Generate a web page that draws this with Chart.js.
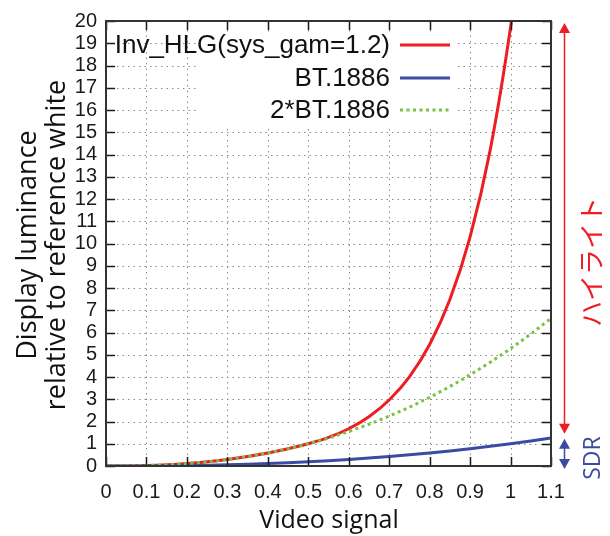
<!DOCTYPE html>
<html>
<head>
<meta charset="utf-8">
<script src="https://cdn.jsdelivr.net/npm/chart.js@4/dist/chart.umd.min.js"></script>
<style>
  html, body { margin: 0; padding: 0; background: #ffffff; }
  #wrap { width: 610px; height: 536px; }
</style>
</head>
<body>
<div id="wrap"><canvas id="c" width="610" height="536"></canvas></div>
<script>
// ---- data ----
const seriesNames = ["Inv_HLG(sys_gam=1.2)", "BT.1886", "2*BT.1886"];
const xVals = [0, 0.05, 0.1, 0.15, 0.2, 0.25, 0.3, 0.35, 0.4, 0.45, 0.5, 0.55, 0.6, 0.65, 0.7, 0.75, 0.8, 0.85, 0.9, 0.95, 1.0, 1.05, 1.1];
const bt1886Vals = [0, 0.0008, 0.004, 0.0105, 0.021, 0.0359, 0.0556, 0.0805, 0.1109, 0.1471, 0.1895, 0.2382, 0.2935, 0.3556, 0.4249, 0.5013, 0.5853, 0.677, 0.7766, 0.8842, 1.0, 1.1242, 1.257];
const bt1886x2Vals = [0, 0.004, 0.021, 0.0556, 0.111, 0.189, 0.293, 0.425, 0.585, 0.776, 1.0, 1.257, 1.549, 1.877, 2.243, 2.646, 3.089, 3.573, 4.099, 4.667, 5.278, 5.934, 6.636];
const hlgX = [0, 0.05, 0.1, 0.15, 0.2, 0.25, 0.3, 0.35, 0.4, 0.45, 0.5, 0.55, 0.6, 0.65, 0.7, 0.75, 0.8, 0.85, 0.9, 0.95, 1.0, 1.02];
const hlgVals = [0, 0.004, 0.021, 0.0556, 0.111, 0.189, 0.293, 0.425, 0.585, 0.776, 1.0, 1.283, 1.673, 2.215, 2.966, 4.008, 5.459, 7.482, 10.30, 14.23, 19.72, 22.5];
const xTickLabels = ["0", "0.1", "0.2", "0.3", "0.4", "0.5", "0.6", "0.7", "0.8", "0.9", "1", "1.1"];
const yTickLabels = ["0","1","2","3","4","5","6","7","8","9","10","11","12","13","14","15","16","17","18","19","20"];
const xTitle = "Video signal";
const yTitleLines = ["Display luminance", "relative to reference white"];
const highlightLabel = "ハイライト";
const sdrLabel = "SDR";

const RED = "#ee1c25";
const BLUE = "#3b4ba3";
const GREEN = "#7cc242";

function pts(xs, ys) { return xs.map((x, i) => ({ x: x, y: ys[i] })); }

const deco = {
  id: "deco",
  beforeDatasetsDraw(chart) {
    const ctx = chart.ctx;
    const a = chart.chartArea;
    const xs = chart.scales.x, ys = chart.scales.y;
    ctx.save();
    // dotted grid
    ctx.strokeStyle = "#8c8c8c";
    ctx.lineWidth = 1;
    ctx.setLineDash([1.5, 4]);
    ctx.beginPath();
    xTickLabels.forEach(t => {
      const px = Math.round(xs.getPixelForValue(parseFloat(t))) + 0.5;
      ctx.moveTo(px, a.bottom); ctx.lineTo(px, a.top);
    });
    yTickLabels.forEach(t => {
      const py = Math.round(ys.getPixelForValue(parseFloat(t))) + 0.5;
      ctx.moveTo(a.left, py); ctx.lineTo(a.right, py);
    });
    ctx.stroke();
    ctx.setLineDash([]);
    // legend key background
    ctx.fillStyle = "#ffffff";
    ctx.fillRect(198, 32, 258, 96);
    ctx.restore();
  },
  afterDraw(chart) {
    const ctx = chart.ctx;
    const a = chart.chartArea;
    const xs = chart.scales.x, ys = chart.scales.y;
    ctx.save();
    // inward ticks
    ctx.strokeStyle = "#1a1a1a";
    ctx.lineWidth = 1.5;
    ctx.beginPath();
    xTickLabels.forEach(t => {
      const px = Math.round(xs.getPixelForValue(parseFloat(t))) + 0.5;
      ctx.moveTo(px, a.bottom); ctx.lineTo(px, a.bottom - 9);
      ctx.moveTo(px, a.top); ctx.lineTo(px, a.top + 9);
    });
    yTickLabels.forEach(t => {
      const py = Math.round(ys.getPixelForValue(parseFloat(t))) + 0.5;
      ctx.moveTo(a.left, py); ctx.lineTo(a.left + 9, py);
      ctx.moveTo(a.right, py); ctx.lineTo(a.right - 9, py);
    });
    ctx.stroke();
    // frame
    ctx.strokeStyle = "#333333";
    ctx.lineWidth = 2;
    ctx.strokeRect(a.left, a.top, a.right - a.left, a.bottom - a.top);

    // legend
    const rows = [45, 78, 110];
    const cols = [RED, BLUE, GREEN];
    ctx.font = "26px 'Liberation Sans', Arial, sans-serif";
    ctx.textAlign = "right";
    ctx.textBaseline = "middle";
    rows.forEach((y, i) => {
      ctx.fillStyle = "#111111";
      ctx.fillText(seriesNames[i], 390, y + 1);
      ctx.strokeStyle = cols[i];
      ctx.lineWidth = 3;
      ctx.setLineDash(i === 2 ? [3, 3.5] : []);
      ctx.beginPath();
      ctx.moveTo(400, y); ctx.lineTo(450, y);
      ctx.stroke();
    });
    ctx.setLineDash([]);

    // axis titles
    ctx.fillStyle = "#111111";
    ctx.textAlign = "center";
    ctx.textBaseline = "middle";
    ctx.font = "25px 'Open Sans', sans-serif";
    ctx.fillText(xTitle, 329, 521);
    ctx.save();
    ctx.translate(28, 245);
    ctx.rotate(-Math.PI / 2);
    ctx.font = "27px 'Open Sans', sans-serif";
    ctx.fillText(yTitleLines[0], 0, 0);
    ctx.fillText(yTitleLines[1], 0, 29);
    ctx.restore();

    // arrows
    function arrowHead(x, tipY, dir, color) {
      ctx.fillStyle = color;
      ctx.beginPath();
      ctx.moveTo(x, tipY);
      ctx.lineTo(x - 5.5, tipY + dir * 10);
      ctx.lineTo(x + 5.5, tipY + dir * 10);
      ctx.closePath();
      ctx.fill();
    }
    const ax = 564.5;
    const yTop = ys.getPixelForValue(20) + 2;
    const y1 = ys.getPixelForValue(1);
    const y0 = ys.getPixelForValue(0);
    ctx.strokeStyle = RED; ctx.lineWidth = 1.5;
    ctx.beginPath(); ctx.moveTo(ax, yTop + 8); ctx.lineTo(ax, y1 - 18); ctx.stroke();
    arrowHead(ax, yTop, 1, RED);
    arrowHead(ax, y1 - 10, -1, RED);
    ctx.strokeStyle = BLUE;
    ctx.beginPath(); ctx.moveTo(ax, y1 + 2); ctx.lineTo(ax, y0 - 5); ctx.stroke();
    arrowHead(ax, y1 - 5, 1, BLUE);
    arrowHead(ax, y0 + 3, -1, BLUE);

    // side labels
    ctx.save();
    ctx.translate(591, 262);
    ctx.rotate(-Math.PI / 2);
    ctx.fillStyle = RED;
    ctx.font = "26px 'Noto Sans CJK JP', sans-serif";
    ctx.fillText(highlightLabel, 0, 0);
    ctx.restore();
    ctx.save();
    ctx.translate(593, 458);
    ctx.rotate(-Math.PI / 2);
    ctx.fillStyle = BLUE;
    ctx.font = "23px 'Open Sans', sans-serif";
    ctx.fillText(sdrLabel, 0, 0);
    ctx.restore();
    ctx.restore();
  }
};

new Chart(document.getElementById("c"), {
  type: "line",
  data: {
    datasets: [
      { label: seriesNames[0], data: pts(hlgX, hlgVals), borderColor: RED, borderWidth: 3, pointRadius: 0, cubicInterpolationMode: "monotone", order: 2, fill: false },
      { label: seriesNames[1], data: pts(xVals, bt1886Vals), borderColor: BLUE, borderWidth: 3, pointRadius: 0, cubicInterpolationMode: "monotone", order: 1, fill: false },
      { label: seriesNames[2], data: pts(xVals, bt1886x2Vals), borderColor: GREEN, borderWidth: 3, borderDash: [3, 3.5], pointRadius: 0, cubicInterpolationMode: "monotone", order: 0, fill: false }
    ]
  },
  options: {
    responsive: false,
    animation: false,
    devicePixelRatio: 1,
    layout: { padding: { top: 20, right: 59, left: 0, bottom: 0 } },
    plugins: { legend: { display: false }, tooltip: { enabled: false } },
    scales: {
      x: {
        type: "linear", min: 0, max: 1.1,
        afterFit(s) { s.height = 70; },
        afterBuildTicks(s) { s.ticks = xTickLabels.map(t => ({ value: parseFloat(t) })); },
        ticks: { callback: (v, i) => xTickLabels[i], font: { family: "'Liberation Sans', Arial, sans-serif", size: 20 }, color: "#1a1a1a", padding: 14, maxRotation: 0, autoSkip: false },
        grid: { display: false, drawTicks: false },
        border: { display: false }
      },
      y: {
        type: "linear", min: 0, max: 20,
        afterFit(s) { s.width = 106; },
        afterBuildTicks(s) { s.ticks = yTickLabels.map(t => ({ value: parseFloat(t) })); },
        ticks: { callback: (v, i) => yTickLabels[i], font: { family: "'Liberation Sans', Arial, sans-serif", size: 20 }, color: "#1a1a1a", padding: 9, autoSkip: false },
        grid: { display: false, drawTicks: false },
        border: { display: false }
      }
    }
  },
  plugins: [deco]
});
</script>
</body>
</html>
